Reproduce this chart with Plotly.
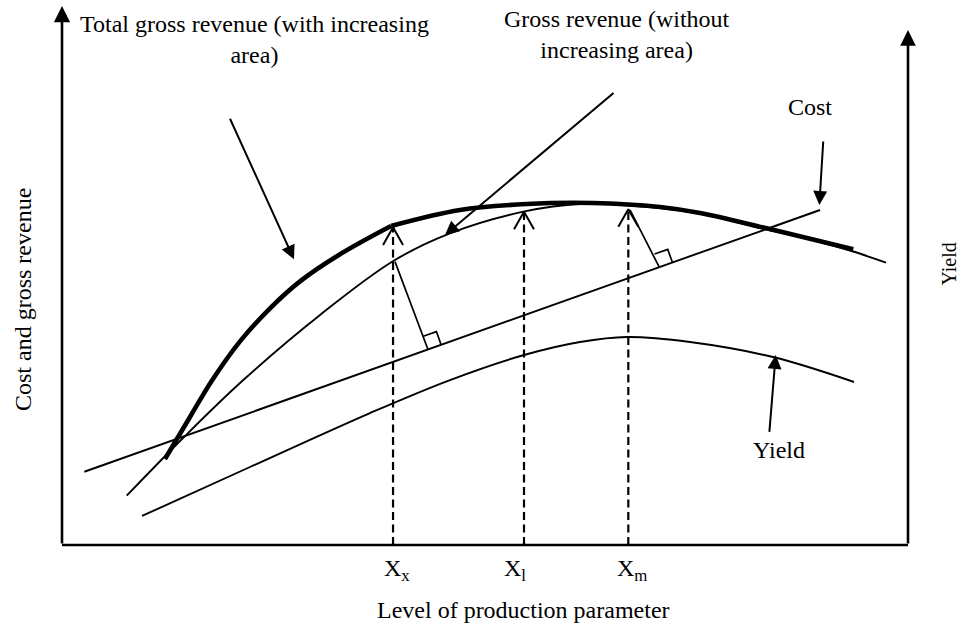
import plotly.graph_objects as go

# ---------------- data (diagram units) ----------------
cost_x = [2.64, 89.6]
cost_y = [8.66, 39.6]

gross_x = [7.65, 14.54, 21.43, 30.50, 39.16, 45.86, 54.53, 61.23, 70.69, 75.41, 83.30, 89.60, 93.53, 97.40]
gross_y = [5.83, 12.88, 19.50, 27.19, 33.57, 36.84, 39.40, 40.31, 39.83, 39.18, 37.29, 35.82, 34.69, 33.37]

total_lo_x = [12.17, 15.13, 17.69, 21.04, 24.59, 28.13, 32.86, 38.89]
total_lo_y = [10.17, 15.13, 19.39, 24.07, 27.97, 31.16, 34.37, 37.71]
total_hi_x = [38.89, 47.04, 54.93, 62.77, 70.69, 75.41, 83.30, 93.53]
total_hi_y = [37.71, 39.60, 40.31, 40.43, 39.95, 39.24, 37.43, 34.95]

yield_x = [9.46, 22.22, 36.41, 45.86, 54.61, 61.23, 66.78, 74.23, 84.04, 93.62]
yield_y = [3.43, 9.22, 15.60, 19.50, 22.46, 24.00, 24.59, 24.00, 22.22, 19.27]

level_labels = ["X<sub>x</sub>", "X<sub>l</sub>", "X<sub>m</sub>"]
level_x = [39.13, 54.61, 66.94]
level_top = [37.55, 39.40, 39.70]
level_label_x = [39.56, 53.55, 67.34]

perp_from_x = [39.36, 67.14]
perp_from_y = [33.49, 39.60]
perp_foot_x = [43.26, 70.60]

curve_labels = ["Total gross revenue (with increasing<br>area)",
                "Gross revenue (without<br>increasing area)",
                "Cost", "Yield"]
label_x = [22.73, 65.6, 88.42, 84.75]
label_y = [59.7, 60.3, 51.77, 11.23]
arrow_from_x = [19.78, 65.37, 89.99, 83.60]
arrow_from_y = [50.56, 53.58, 47.87, 13.20]
arrow_to_x = [27.42, 45.27, 89.52, 84.36]
arrow_to_y = [33.77, 36.64, 40.19, 22.46]

x_title = "Level of production parameter"
y_title = "Cost and gross revenue"
y2_title = "Yield"

# ---------------- figure ----------------
FONT = "Liberation Serif, Times New Roman, serif"
BLACK = "#000000"

fig = go.Figure()

def line(x, y, width, dash="solid", shape="linear"):
    fig.add_trace(go.Scatter(x=x, y=y, mode="lines", hoverinfo="skip",
                             line=dict(color=BLACK, width=width, dash=dash, shape=shape,
                                       smoothing=1.0)))

# axes frame (bottom)
line([0, 100], [0, 0], 2.6)

# curves
line(cost_x, cost_y, 1.9)
line(yield_x, yield_y, 1.9, shape="spline")
line(gross_x, gross_y, 1.9, shape="spline")
line(total_lo_x, total_lo_y, 4.6, shape="spline")
line(total_hi_x, total_hi_y, 4.6, shape="spline")

# dashed level lines with open chevrons
for lx, top in zip(level_x, level_top):
    line([lx, lx], [0, top], 2.2, dash="8px,4.5px")
    line([lx - 1.18, lx, lx + 1.18], [top - 2.09, top, top - 2.09], 2.0)

# perpendiculars to cost line with right-angle markers
slope = (cost_y[1] - cost_y[0]) / (cost_x[1] - cost_x[0])
norm = (1 + slope ** 2) ** 0.5
ux, uy = 1 / norm, slope / norm
nx, ny = -uy, ux
s = 1.65
for fx, fy, px in zip(perp_from_x, perp_from_y, perp_foot_x):
    py = cost_y[0] + slope * (px - cost_x[0])
    line([fx, px], [fy, py], 1.7)
    line([px + ux * s, px + ux * s + nx * s, px + nx * s],
         [py + uy * s, py + uy * s + ny * s, py + ny * s], 1.7)

annotations = []
# axis arrows
annotations.append(dict(x=0, y=63.71, ax=0, ay=0, xref="x", yref="y", axref="x", ayref="y",
                        text="", showarrow=True, arrowhead=2, arrowwidth=2.6, arrowsize=1.25,
                        arrowcolor=BLACK))
annotations.append(dict(x=100, y=60.87, ax=100, ay=0, xref="x", yref="y", axref="x", ayref="y",
                        text="", showarrow=True, arrowhead=2, arrowwidth=2.6, arrowsize=1.2,
                        arrowcolor=BLACK))
# pointer arrows
for fx, fy, tx, ty in zip(arrow_from_x, arrow_from_y, arrow_to_x, arrow_to_y):
    annotations.append(dict(x=tx, y=ty, ax=fx, ay=fy, xref="x", yref="y", axref="x", ayref="y",
                            text="", showarrow=True, arrowhead=2, arrowwidth=2.0, arrowsize=1.4,
                            arrowcolor=BLACK))
# curve labels
for t, lx, ly in zip(curve_labels, label_x, label_y):
    annotations.append(dict(x=lx, y=ly, xref="x", yref="y", text=t, showarrow=False,
                            xanchor="center", yanchor="middle", align="center",
                            font=dict(family=FONT, size=24, color=BLACK)))
# level labels
for t, lx in zip(level_labels, level_label_x):
    annotations.append(dict(x=lx, y=-2.95, xref="x", yref="y", text=t, showarrow=False,
                            xanchor="center", yanchor="middle",
                            font=dict(family=FONT, size=24, color=BLACK)))
# axis titles
annotations.append(dict(x=54.53, y=-7.68, xref="x", yref="y", text=x_title, showarrow=False,
                        xanchor="center", yanchor="middle",
                        font=dict(family=FONT, size=24, color=BLACK)))
annotations.append(dict(x=-4.61, y=28.96, xref="x", yref="y", text=y_title, showarrow=False,
                        textangle=-90, xanchor="center", yanchor="middle",
                        font=dict(family=FONT, size=24, color=BLACK)))
annotations.append(dict(x=104.9, y=33.2, xref="x", yref="y", text=y2_title, showarrow=False,
                        textangle=-90, xanchor="center", yanchor="middle",
                        font=dict(family=FONT, size=20, color=BLACK)))

fig.update_layout(
    width=963, height=625, autosize=False,
    margin=dict(l=0, r=0, t=0, b=0),
    paper_bgcolor="white", plot_bgcolor="white",
    showlegend=False,
    xaxis=dict(range=[-62 / 8.46, 901 / 8.46], visible=False, fixedrange=True),
    yaxis=dict(range=[-80 / 8.46, 545 / 8.46], visible=False, fixedrange=True),
    annotations=annotations,
)

fig.write_html("out.html", config={"displayModeBar": False},
               post_script="document.body.style.margin='0px';document.body.style.overflow='hidden';")
